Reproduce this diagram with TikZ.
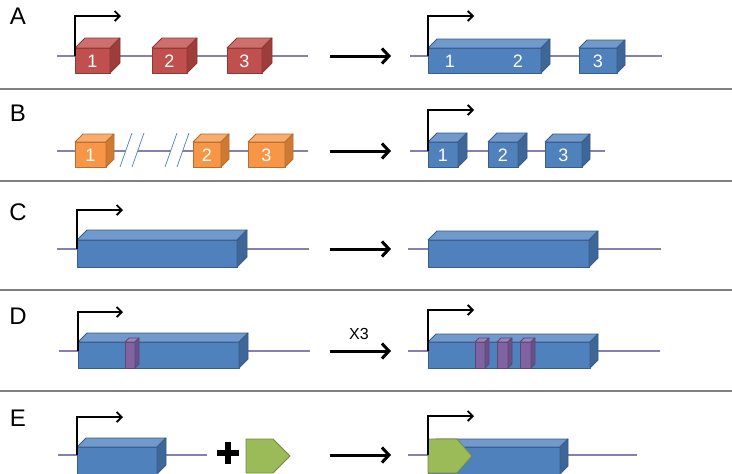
\documentclass[tikz,border=0pt]{standalone}
\usepackage{fontspec}
\setmainfont{Liberation Sans}
\usetikzlibrary{arrows.meta,calc}
\definecolor{geneC}{HTML}{8A7DB0}
\definecolor{sepC}{HTML}{7F7F7F}
\definecolor{redF}{HTML}{C0504D}\definecolor{redT}{HTML}{CD706D}\definecolor{redS}{HTML}{9E3D3A}\definecolor{redO}{HTML}{8C3836}
\definecolor{bluF}{HTML}{4F81BD}\definecolor{bluT}{HTML}{7199CB}\definecolor{bluS}{HTML}{3E6697}\definecolor{bluO}{HTML}{385D8A}
\definecolor{oraF}{HTML}{F79646}\definecolor{oraT}{HTML}{F9AC6E}\definecolor{oraS}{HTML}{CF7A33}\definecolor{oraO}{HTML}{B66D31}
\definecolor{purF}{HTML}{8064A2}\definecolor{purT}{HTML}{9B84BA}\definecolor{purS}{HTML}{6A508A}\definecolor{purO}{HTML}{5C4776}
\definecolor{grnF}{HTML}{9BBB59}\definecolor{grnO}{HTML}{71893F}
% #1 x-left #2 x-right #3 y-top #4 y-bottom #5 depth #6 colour prefix
\newcommand\gbox[6]{%
  \filldraw[draw=#6O, fill=#6F, line width=0.8pt, line join=round] (#1,#3) rectangle (#2,#4);
  \filldraw[draw=#6O, fill=#6T, line width=0.8pt, line join=round] (#1,#3) -- (#1+#5,#3-#5) -- (#2+#5,#3-#5) -- (#2,#3) -- cycle;
  \filldraw[draw=#6O, fill=#6S, line width=0.8pt, line join=round] (#2,#3) -- (#2+#5,#3-#5) -- (#2+#5,#4-#5) -- (#2,#4) -- cycle;
}
% purple band: #1 x-left #2 x-right
\newcommand\pband[2]{\gbox{#1}{#2}{342}{368}{4}{pur}}
\tikzset{
  gene/.style={draw=geneC, line width=1.5pt},
  prom/.style={line width=1.8pt, -{Straight Barb[length=5pt,width=10pt]}},
  conv/.style={line width=3pt, -{Straight Barb[length=7pt,width=15pt]}},
  sep/.style={draw=sepC, line width=1.3pt},
  lbl/.style={font=\fontsize{24}{28}\selectfont},
  num/.style={text=white, font=\fontsize{18}{20}\selectfont, inner sep=0pt},
  slash/.style={draw=bluF, line width=0.7pt}
}
\begin{document}
\begin{tikzpicture}[x=1pt,y=-1pt]
\useasboundingbox[fill=white] (0,0) rectangle (732,474);
% separators
\foreach \yy/\nm in {89/s1,181/s2,290/s3,391/s4}{
  \coordinate (\nm a) at (0,\yy); \coordinate (\nm b) at (732,\yy);
  \draw[sep] (\nm a) -- (\nm b);
}
% panel labels
\node[lbl] (lA) at (18,16) {A};
\node[lbl] (lB) at (18,113) {B};
\node[lbl] (lC) at (18,212) {C};
\node[lbl] (lD) at (18,316) {D};
\node[lbl] (lE) at (18,418) {E};

% ================= Row A =================
\coordinate (gA1) at (57,56); \coordinate (gA2) at (308,56);
\draw[gene] (gA1) -- (gA2);
\gbox{75}{110}{48}{73}{10}{red}
\gbox{152}{187}{48}{73}{10}{red}
\gbox{227}{262}{48}{73}{10}{red}
\node[num] (a1) at (92.5,61) {1};
\node[num] (a2) at (169.5,61) {2};
\node[num] (a3) at (244.5,61) {3};
\coordinate (pA) at (75,56); \coordinate (pAe) at (121,16);
\draw[prom] (pA) |- (pAe);
\coordinate (cA1) at (330,56); \coordinate (cA2) at (391,56);
\draw[conv] (cA1) -- (cA2);
\coordinate (gA3) at (410,56); \coordinate (gA4) at (662,56);
\draw[gene] (gA3) -- (gA4);
\gbox{428}{541}{48}{73}{9}{blu}
\gbox{579}{617}{48}{73}{8}{blu}
\node[num] (a4) at (450,61) {1};
\node[num] (a5) at (518,61) {2};
\node[num] (a6) at (598,61) {3};
\coordinate (pA2) at (428,56); \coordinate (pA2e) at (474,16);
\draw[prom] (pA2) |- (pA2e);

% ================= Row B =================
\coordinate (gB1) at (57,151); \coordinate (gB1a) at (125.6,151);
\coordinate (gB1b) at (137.6,151); \coordinate (gB1c) at (170.6,151);
\coordinate (gB1d) at (182.6,151); \coordinate (gB2) at (308,151);
\draw[gene] (gB1) -- (gB1a);
\draw[gene] (gB1b) -- (gB1c);
\draw[gene] (gB1d) -- (gB2);
\draw[slash] (120,167) -- (132,133);
\draw[slash] (132,167) -- (144,133);
\draw[slash] (165,167) -- (177,133);
\draw[slash] (177,167) -- (189,133);
\gbox{75}{106}{142}{167}{8}{ora}
\gbox{193}{221}{142}{167}{8}{ora}
\gbox{248}{285}{142}{167}{8}{ora}
\node[num] (b1) at (90.5,155.5) {1};
\node[num] (b2) at (207,155.5) {2};
\node[num] (b3) at (266.5,155.5) {3};
\coordinate (cB1) at (330,151); \coordinate (cB2) at (391,151);
\draw[conv] (cB1) -- (cB2);
\coordinate (gB3) at (410,151); \coordinate (gB4) at (605,151);
\draw[gene] (gB3) -- (gB4);
\gbox{428}{458}{142}{167}{9}{blu}
\gbox{488}{518}{142}{167}{9}{blu}
\gbox{545}{582}{142}{167}{8}{blu}
\node[num] (b4) at (443,155.5) {1};
\node[num] (b5) at (503,155.5) {2};
\node[num] (b6) at (563.5,155.5) {3};
\coordinate (pB2) at (428,151); \coordinate (pB2e) at (474,110);
\draw[prom] (pB2) |- (pB2e);

% ================= Row C =================
\coordinate (gC1) at (57,249); \coordinate (gC2) at (309,249);
\draw[gene] (gC1) -- (gC2);
\gbox{77}{237}{240}{267}{10}{blu}
\coordinate (pC) at (77,249); \coordinate (pCe) at (123,210);
\draw[prom] (pC) |- (pCe);
\coordinate (cC1) at (330,249); \coordinate (cC2) at (391,249);
\draw[conv] (cC1) -- (cC2);
\coordinate (gC3) at (408,249); \coordinate (gC4) at (661,249);
\draw[gene] (gC3) -- (gC4);
\gbox{428}{589}{240}{267}{9}{blu}

% ================= Row D =================
\coordinate (gD1) at (59,351); \coordinate (gD2) at (310,351);
\draw[gene] (gD1) -- (gD2);
\gbox{78}{239}{342}{368}{9}{blu}
\pband{125}{135}
\coordinate (pD) at (78,351); \coordinate (pDe) at (123,312);
\draw[prom] (pD) |- (pDe);
\coordinate (cD1) at (330,351); \coordinate (cD2) at (391,351);
\draw[conv] (cD1) -- (cD2);
\node[font=\fontsize{16}{18}\selectfont, inner sep=0pt] (x3) at (359,334) {X3};
\coordinate (gD3) at (408,351); \coordinate (gD4) at (660,351);
\draw[gene] (gD3) -- (gD4);
\gbox{428}{590}{342}{368}{8}{blu}
\pband{475}{485}
\pband{497}{508}
\pband{520}{531}
\coordinate (pD2) at (428,351); \coordinate (pD2e) at (474,310);
\draw[prom] (pD2) |- (pD2e);

% ================= Row E =================
\coordinate (gE1) at (58,455); \coordinate (gE2) at (207,455);
\draw[gene] (gE1) -- (gE2);
\gbox{77}{157}{447}{474}{9}{blu}
\coordinate (pE) at (77,455); \coordinate (pEe) at (123,417);
\draw[prom] (pE) |- (pEe);
\coordinate (plc) at (228,453);
\draw[line width=5.5pt] ($(plc)+(-11,0)$) -- ($(plc)+(11,0)$);
\draw[line width=5.5pt] ($(plc)+(0,-11)$) -- ($(plc)+(0,11)$);
\filldraw[draw=grnO, fill=grnF, line width=0.8pt, line join=round]
  (246,439) -- (273,439) -- (290,456) -- (273,473) -- (246,473) -- cycle;
\coordinate (cE1) at (330,455); \coordinate (cE2) at (391,455);
\draw[conv] (cE1) -- (cE2);
\coordinate (gE3) at (408,455); \coordinate (gE4) at (637,455);
\draw[gene] (gE3) -- (gE4);
\gbox{428}{560}{447}{474}{8}{blu}
\filldraw[draw=grnO, fill=grnF, line width=0.8pt, line join=round]
  (428,439) -- (457,439) -- (472,456) -- (457,473) -- (428,473) -- cycle;
\coordinate (pE2) at (428,455); \coordinate (pE2e) at (474,416);
\draw[prom] (pE2) |- (pE2e);
\end{tikzpicture}
\end{document}
